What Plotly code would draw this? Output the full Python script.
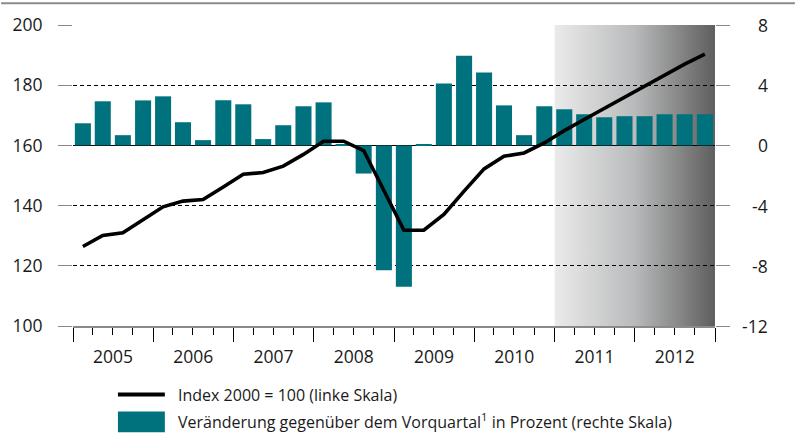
import base64
import pandas as pd
import plotly.graph_objects as go

# ---------------- data ----------------
quarters = [f"{y}Q{q}" for y in range(2005, 2013) for q in range(1, 5)]

index_values = [
    126.4, 130.1, 131.0, 135.3,
    139.6, 141.5, 142.0, 146.2,
    150.4, 151.0, 153.1, 157.0,
    161.4, 161.4, 158.3, 145.0,
    131.8, 131.8, 137.1, 144.8,
    152.2, 156.4, 157.5, 160.8,
    164.9, 168.6, 172.3, 176.1,
    179.9, 183.5, 187.0, 190.3,
]

change_values = [
    1.47, 2.93, 0.68, 2.99,
    3.26, 1.54, 0.35, 3.00,
    2.73, 0.42, 1.34, 2.60,
    2.86, 0.05, -1.87, -8.30,
    -9.40, 0.05, 4.11, 5.96,
    4.84, 2.66, 0.68, 2.60,
    2.40, 2.07, 1.87, 1.94,
    1.94, 2.07, 2.07, 2.07,
]

left_ticks = [100, 120, 140, 160, 180, 200]
right_ticks = [-12, -8, -4, 0, 4, 8]
forecast_start = "2011-01-01"
x_start, x_end = "2005-01-01", "2013-01-01"

line_name = "Index 2000 = 100 (linke Skala)"
bar_name = "Veränderung gegenüber dem Vorquartal<sup>1</sup> in Prozent (rechte Skala)"

# ---------------- styles ----------------
TEAL = "#00727d"
FONT = "Open Sans"
TXT = "#1a1a1a"
GRAY = "#8a8a8a"

periods = pd.PeriodIndex(quarters, freq="Q")
x_mid = periods.start_time + (periods.end_time - periods.start_time) / 2
DAY_MS = 86400000
bar_width = 0.8 * 91.3 * DAY_MS

fig = go.Figure()

fig.add_trace(go.Bar(
    x=x_mid, y=change_values, yaxis="y", width=bar_width,
    marker=dict(color=TEAL, line=dict(width=0)),
    name=bar_name, showlegend=False,
))
fig.add_trace(go.Scatter(
    x=x_mid, y=index_values, yaxis="y2", mode="lines",
    line=dict(color="black", width=3.6),
    name=line_name, showlegend=False,
))

# gradient for forecast period
svg = ('<svg xmlns="http://www.w3.org/2000/svg" width="200" height="100" viewBox="0 0 200 100" '
       'preserveAspectRatio="none"><defs><linearGradient id="g" x1="0" x2="1" y1="0" y2="0">'
       '<stop offset="0" stop-color="#ebebeb"/><stop offset="0.5" stop-color="#b9babb"/>'
       '<stop offset="1" stop-color="#5e5e5e"/></linearGradient></defs>'
       '<rect width="200" height="100" fill="url(#g)"/></svg>')
src = "data:image/svg+xml;base64," + base64.b64encode(svg.encode()).decode()
span_ms = (pd.Timestamp(x_end) - pd.Timestamp(forecast_start)).total_seconds() * 1000
fig.add_layout_image(dict(
    source=src, xref="x", yref="y", x=forecast_start, y=right_ticks[-1],
    sizex=span_ms, sizey=right_ticks[-1] - right_ticks[0],
    xanchor="left", yanchor="top", sizing="stretch", layer="below",
))

L, R, T, B = 72, 80, 23, 112
W, H = 795, 438
pw, ph = W - L - R, H - T - B


def px(xp):
    return (xp - L) / pw


def py(yp):
    return (H - B - yp) / ph


annotations = []
for v in right_ticks:
    annotations.append(dict(
        x=px(770), xref="paper", y=v, yref="y", xanchor="right", yanchor="middle",
        text=str(v), showarrow=False, font=dict(family=FONT, size=17.5, color=TXT),
    ))
annotations.append(dict(x=px(175), xref="paper", y=py(395), yref="paper",
                        xanchor="left", yanchor="middle", text=line_name, showarrow=False,
                        font=dict(family=FONT, size=16, color=TXT)))
annotations.append(dict(x=px(175), xref="paper", y=py(422), yref="paper",
                        xanchor="left", yanchor="middle", text=bar_name, showarrow=False,
                        font=dict(family=FONT, size=16, color=TXT)))

shapes = [
    dict(type="line", xref="paper", yref="paper", x0=px(0), x1=px(W), y0=py(1), y1=py(1),
         line=dict(color=GRAY, width=2)),
    dict(type="line", xref="paper", yref="paper", x0=px(117), x1=px(164), y0=py(395), y1=py(395),
         line=dict(color="black", width=4)),
    dict(type="rect", xref="paper", yref="paper", x0=px(117), x1=px(164), y0=py(412), y1=py(433),
         fillcolor=TEAL, line=dict(width=0)),
]

fig.update_layout(
    width=W, height=H,
    margin=dict(l=L, r=R, t=T, b=B),
    paper_bgcolor="white", plot_bgcolor="white",
    bargap=0.2,
    showlegend=False,
    font=dict(family=FONT, color=TXT, size=17.5),
    xaxis=dict(
        type="date", range=[x_start, x_end],
        tick0=x_start, dtick="M12", tickformat="%Y", ticklabelmode="period",
        ticks="outside", ticklen=14, tickcolor="black", tickwidth=1,
        minor=dict(dtick="M3", tick0=x_start, ticks="outside", ticklen=7,
                   tickcolor="black", tickwidth=1, showgrid=False),
        showgrid=False, zeroline=False,
        showline=True, linecolor=GRAY, linewidth=2,
        tickfont=dict(family=FONT, size=17.5, color=TXT),
    ),
    yaxis=dict(
        side="right", range=[right_ticks[0], right_ticks[-1]], tickvals=right_ticks,
        showticklabels=False, ticks="outside", ticklen=14, tickcolor=GRAY, tickwidth=1,
        showgrid=True, gridcolor="black", gridwidth=1, griddash="4px,3px",
        zeroline=True, zerolinecolor="black", zerolinewidth=1.3,
        showline=False,
    ),
    yaxis2=dict(
        side="left", overlaying="y", range=[left_ticks[0], left_ticks[-1]], tickvals=left_ticks,
        ticks="outside", ticklen=14, tickcolor=GRAY, tickwidth=1,
        showgrid=False, zeroline=False, showline=False,
        ticklabelstandoff=12,
        tickfont=dict(family=FONT, size=17.5, color=TXT),
    ),
    annotations=annotations,
    shapes=shapes,
)

fig.write_html("out.html", config={"displayModeBar": False},
               post_script="document.body.style.margin='0';")
